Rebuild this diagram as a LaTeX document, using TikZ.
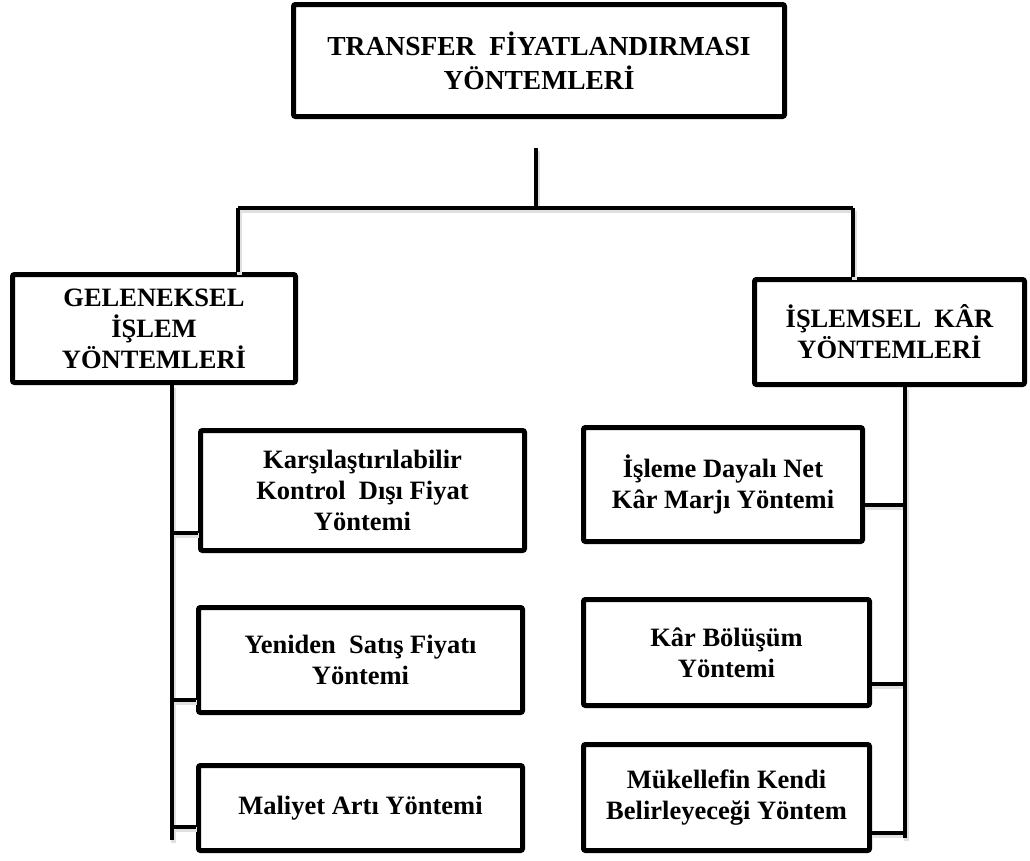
\documentclass[tikz,border=0pt]{standalone}
\usepackage{fontspec}
\setmainfont{Liberation Serif}
\newcommand\drawconnectors[1]{%
  \draw[#1] (stubtop) -- (bar);
  \draw[#1] (barL) -- (barR);
  \draw[#1] (barL) -- (barL |- lh.north);
  \draw[#1] (barR) -- (barR |- rh.north);
  \draw[#1] (lsEnd |- lh.south) -- (lsEnd);
  \draw[#1] (rsEnd |- rh.south) -- (rsEnd);
  \draw[#1] (lsEnd |- y1) -- (l1.west |- y1);
  \draw[#1] (lsEnd |- y2) -- (l2.west |- y2);
  \draw[#1] (lsEnd |- y3) -- (l3.west |- y3);
  \draw[#1] (r1.east |- z1) -- (rsEnd |- z1);
  \draw[#1] (r2.east |- z2) -- (rsEnd |- z2);
  \draw[#1] (r3.east |- z3) -- (rsEnd |- z3);
}
\begin{document}
\begin{tikzpicture}[x=1pt,y=-1pt,
  box/.style={draw=black, line width=5pt, rounded corners=2pt, align=center, inner sep=2pt,
    font=\bfseries\fontsize{26.5}{31}\selectfont},
  hbox/.style={box, font=\bfseries\fontsize{26.5}{31}\selectfont},
  tbox/.style={box, font=\bfseries\fontsize{27.5}{34}\selectfont},
  conn/.style={draw=black, line width=4.5pt},
  connshadow/.style={draw=black!12, line width=5pt, transform canvas={shift={(1pt,-2.5pt)}}}]
\useasboundingbox (0,0) rectangle (1030,860);
% coordinates
\coordinate (stubtop) at (536,148);
\coordinate (bar) at (536,208);
\coordinate (barL) at (238,208);
\coordinate (barR) at (853,208);
\coordinate (lsEnd) at (172,840);
\coordinate (rsEnd) at (905,838);
\coordinate (y1) at (0,533);
\coordinate (y2) at (0,700);
\coordinate (y3) at (0,827);
\coordinate (z1) at (0,505);
\coordinate (z2) at (0,684);
\coordinate (z3) at (0,833);
% header boxes
\node[tbox, minimum width=491pt, minimum height=112pt] (top) at (539,60.5) {TRANSFER\ \ FİYATLANDIRMASI\\YÖNTEMLERİ};
\node[hbox, minimum width=283pt, minimum height=108pt] (lh) at (154,328.5) {GELENEKSEL\\İŞLEM\\YÖNTEMLERİ};
\node[hbox, minimum width=270pt, minimum height=105pt] (rh) at (889.5,332) {İŞLEMSEL\ \ KÂR\\YÖNTEMLERİ};
% left children
\node[box, minimum width=324pt, minimum height=120pt] (l1) at (362.5,490.5) {Karşılaştırılabilir\\Kontrol\ \ Dışı Fiyat\\Yöntemi};
\node[box, minimum width=324pt, minimum height=105pt] (l2) at (360.5,660) {Yeniden\ \ Satış Fiyatı\\Yöntemi};
\node[box, minimum width=324pt, minimum height=85pt] (l3) at (360.5,808) {Maliyet Artı Yöntemi};
% right children
\node[box, minimum width=279pt, minimum height=114pt] (r1) at (723,484.5) {İşleme Dayalı Net\\Kâr Marjı Yöntemi};
\node[box, minimum width=286pt, minimum height=106pt] (r2) at (726.5,652.5) {Kâr Bölüşüm\\Yöntemi};
\node[box, minimum width=286pt, minimum height=106pt] (r3) at (726.5,797.5) {Mükellefin Kendi\\Belirleyeceği Yöntem};
% connectors: soft shadows first, then the black lines
\drawconnectors{connshadow}
\drawconnectors{conn}
\end{tikzpicture}
\end{document}
